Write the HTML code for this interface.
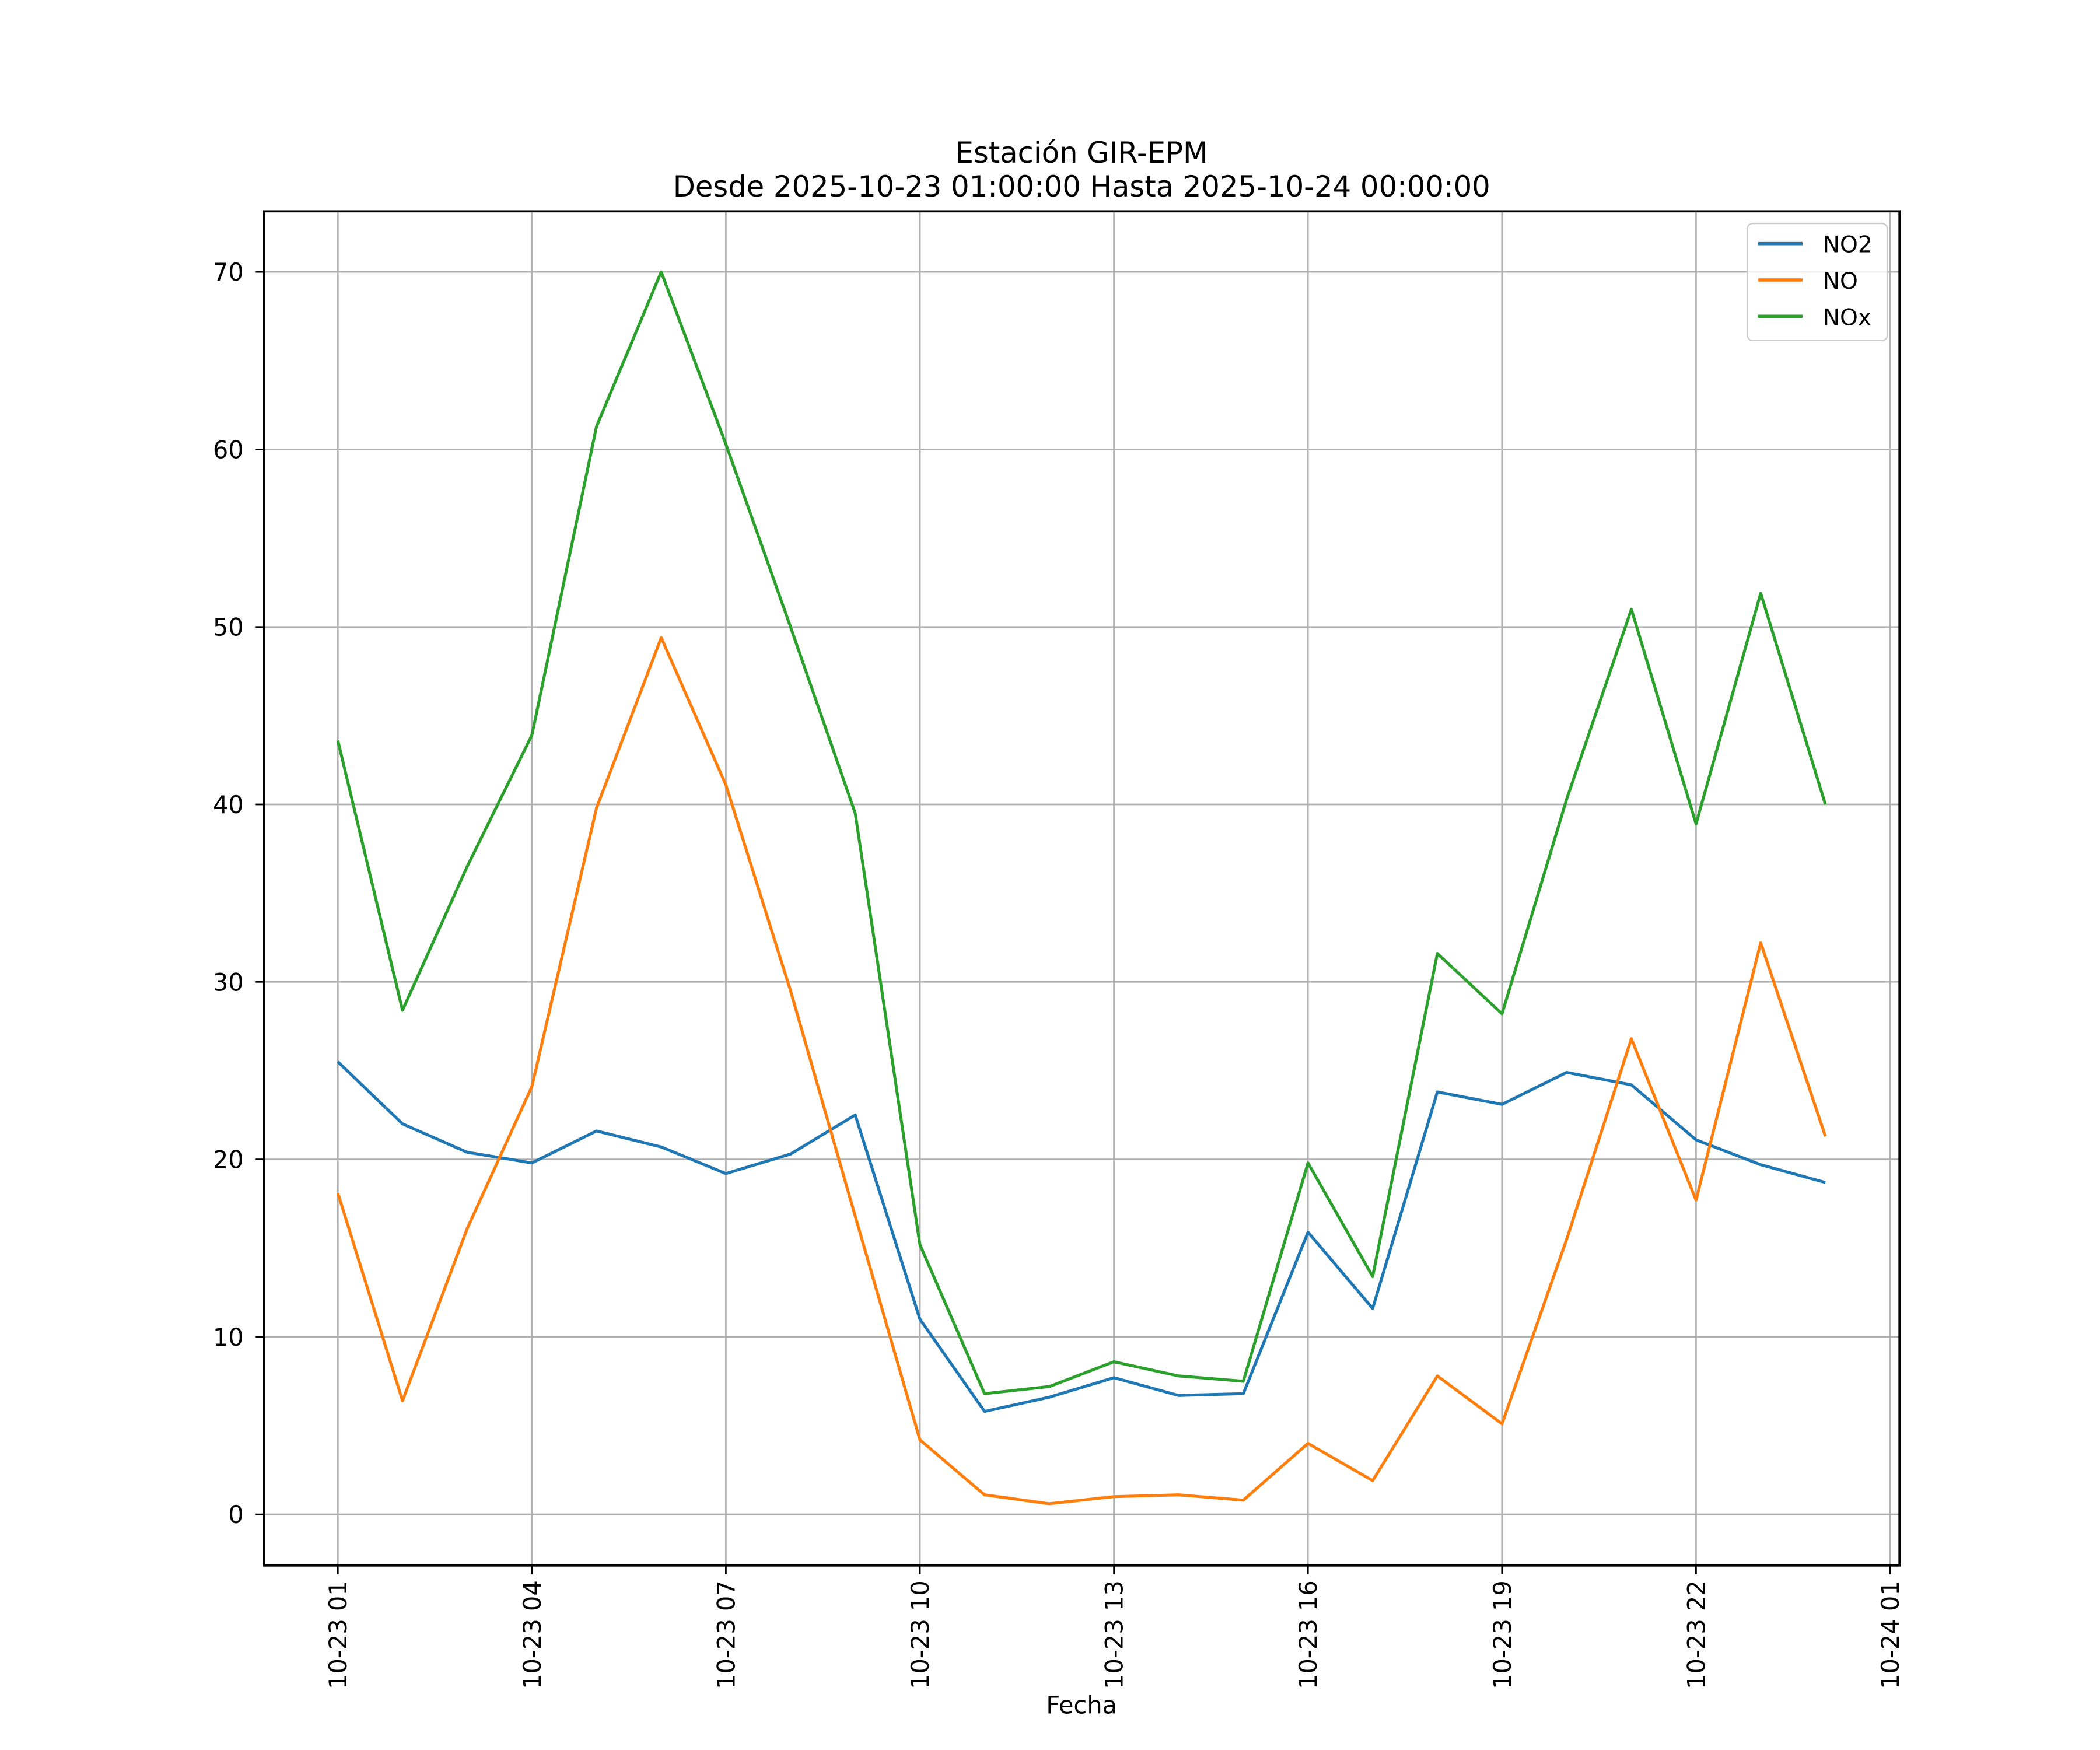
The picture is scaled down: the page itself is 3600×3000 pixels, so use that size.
<!DOCTYPE html>
<html><head><meta charset="utf-8"><style>
html,body{margin:0;padding:0;background:#fff;}
svg{display:block;font-family:"DejaVu Sans","Liberation Sans",sans-serif;}
</style></head><body>
<svg id="chart" width="3600" height="3000" viewBox="0 0 1560 1300" preserveAspectRatio="none" xmlns="http://www.w3.org/2000/svg">
<rect width="1560" height="1300" fill="#fff"/>
<text x="803.5" y="121" font-size="21.5" text-anchor="middle">Estación GIR-EPM</text>
<text x="803.5" y="146" font-size="21.5" text-anchor="middle">Desde 2025-10-23 01:00:00 Hasta 2025-10-24 00:00:00</text>
<g id="grid"></g>
<g id="series"></g>
<rect x="196" y="157" width="1215" height="1006" fill="none" stroke="#000" stroke-width="1.6"/>
<g id="axes"></g>
<text x="803.5" y="1273" font-size="18" text-anchor="middle">Fecha</text>
<g>
<rect x="1298" y="166" width="104" height="87" rx="4" fill="#fff" fill-opacity="0.8" stroke="#ccc"/>
<g><line x1="1306" y1="181" x2="1339" y2="181" stroke="#1f77b4" stroke-width="2.4"/><text x="1354" y="187.5" font-size="17">NO2</text></g>
<g><line x1="1306" y1="208" x2="1339" y2="208" stroke="#ff7f0e" stroke-width="2.4"/><text x="1354" y="214.5" font-size="17">NO</text></g>
<g><line x1="1306" y1="235" x2="1339" y2="235" stroke="#2ca02c" stroke-width="2.4"/><text x="1354" y="241.5" font-size="17">NOx</text></g>
</g>
</svg>
<script>
const hours = [1,2,3,4,5,6,7,8,9,10,11,12,13,14,15,16,17,18,19,20,21,22,23,24];
const no2 = [25.5,22.0,20.4,19.8,21.6,20.7,19.2,20.3,22.5,11.0,5.8,6.6,7.7,6.7,6.8,15.9,11.6,23.8,23.1,24.9,24.2,21.1,19.7,18.7];
const no = [18.1,6.4,16.1,24.1,39.8,49.4,41.1,29.5,16.8,4.2,1.1,0.6,1.0,1.1,0.8,4.0,1.9,7.8,5.1,15.5,26.8,17.7,32.2,21.3];
const nox = [43.6,28.4,36.5,43.9,61.3,70.0,60.3,50.0,39.5,15.2,6.8,7.2,8.6,7.8,7.5,19.8,13.4,31.6,28.2,40.3,51.0,38.9,51.9,40.0];
const yTicks = [0,10,20,30,40,50,60,70];
const xTickHours = [1,4,7,10,13,16,19,22,25];
const xTickLabels = ["10-23 01","10-23 04","10-23 07","10-23 10","10-23 13","10-23 16","10-23 19","10-23 22","10-24 01"];

const NS = "http://www.w3.org/2000/svg";
const xs = h => 251 + (h - 1) * (1404 - 251) / 24;
const ys = v => 1125 - v * (1125 - 202) / 70;
function mk(tag, attrs, parent){const e=document.createElementNS(NS,tag);for(const k in attrs)e.setAttribute(k,attrs[k]);parent.appendChild(e);return e;}
const grid=document.getElementById('grid'), axes=document.getElementById('axes'), ser=document.getElementById('series');
yTicks.forEach(t=>{
  const y=ys(t);
  const g=mk('line',{x1:196,x2:1411,y1:y,y2:y,stroke:'#b0b0b0','stroke-width':1.2},grid);
  
  
  mk('line',{x1:189.5,x2:196,y1:y,y2:y,stroke:'#000','stroke-width':1.2},axes);
  const tx=mk('text',{x:181,y:y+6.5,'font-size':18,'text-anchor':'end'},axes);
  tx.textContent=t;
  
  
});
xTickHours.forEach((h,i)=>{
  const x=xs(h);
  const g=mk('line',{x1:x,x2:x,y1:157,y2:1163,stroke:'#b0b0b0','stroke-width':1.2},grid);
  
  
  mk('line',{x1:x,x2:x,y1:1163,y2:1169.5,stroke:'#000','stroke-width':1.2},axes);
  const tx=mk('text',{x:0,y:0,'font-size':18,'text-anchor':'end',transform:`translate(${x+6.5},1174) rotate(-90)`},axes);
  tx.textContent=xTickLabels[i];
  
  
});
[[no2,'#1f77b4','no2-line'],[no,'#ff7f0e','no-line'],[nox,'#2ca02c','nox-line']].forEach(([d,c,n])=>{
  const p=mk('polyline',{points:d.map((v,i)=>xs(hours[i])+','+ys(v)).join(' '),fill:'none',stroke:c,'stroke-width':2.2,'stroke-linejoin':'round'},ser);
  
  
});
</script>
</body></html>
